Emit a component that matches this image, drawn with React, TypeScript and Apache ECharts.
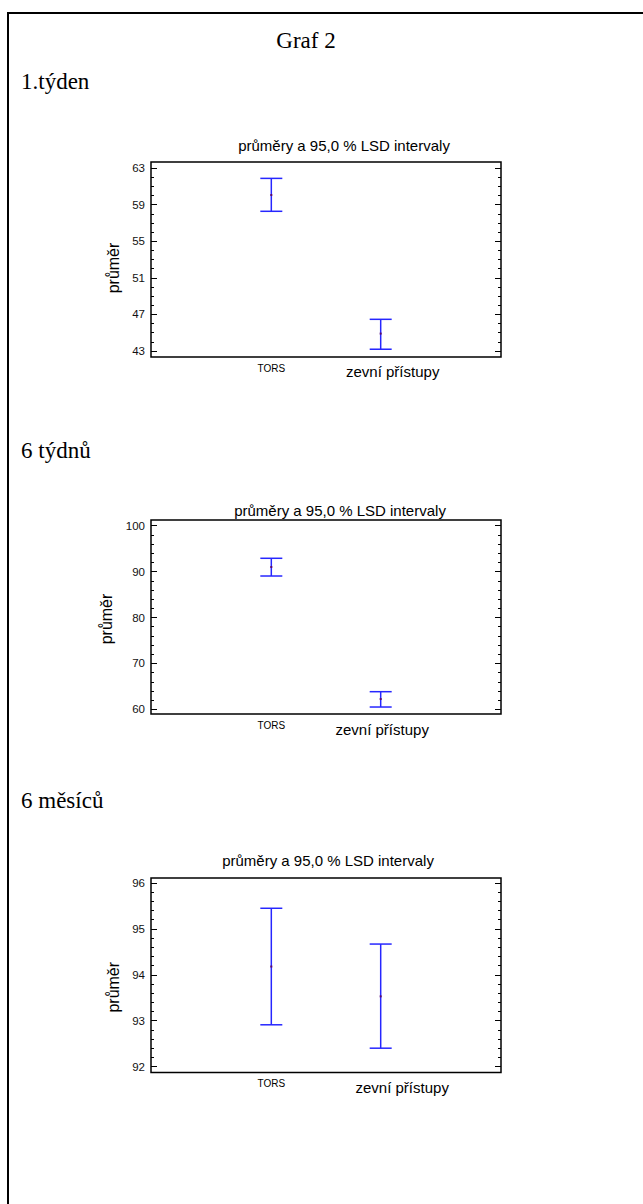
import React, { useEffect, useRef } from "react";
import * as echarts from "echarts";

// ---------- data ----------
const categories = ["TORS", "zevní přístupy"];
const catPos = [1, 2];

const headings = ["1.týden", "6 týdnů", "6 měsíců"];
const pageTitle = "Graf 2";
const chartTitle = "průměry a 95,0 % LSD intervaly";
const yName = "průměr";

// chart 1 (1.týden)
const week1Mean = [60.05, 44.9];
const week1Low = [58.27, 43.19];
const week1High = [61.87, 46.46];
const week1Major = [43, 47, 51, 55, 59, 63];
const week1Minor = [44, 45, 46, 48, 49, 50, 52, 53, 54, 56, 57, 58, 60, 61, 62];

// chart 2 (6 týdnů)
const weeks6Mean = [91.0, 62.24];
const weeks6Low = [89.04, 60.5];
const weeks6High = [92.9, 63.84];
const weeks6Major = [60, 70, 80, 90, 100];
const weeks6Minor = [62, 64, 66, 68, 72, 74, 76, 78, 82, 84, 86, 88, 92, 94, 96, 98];

// chart 3 (6 měsíců)
const months6Mean = [94.18, 93.53];
const months6Low = [92.91, 92.4];
const months6High = [95.45, 94.67];
const months6Major = [92, 93, 94, 95, 96];
const months6Minor = [92.2, 92.4, 92.6, 92.8, 93.2, 93.4, 93.6, 93.8, 94.2, 94.4, 94.6, 94.8, 95.2, 95.4, 95.6, 95.8];

// ---------- layout / style ----------
const SANS = "'Liberation Sans', Arial, sans-serif";
const SERIF = "'Liberation Serif', 'Times New Roman', serif";
const BLUE = "#2626ff";
const PURPLE = "#5a0a6a";

const panels = [
  {
    mean: week1Mean, low: week1Low, high: week1High, major: week1Major, minor: week1Minor,
    min: 42.34, max: 63.66, top: 162, height: 195,
    titleX: 344, titleY: 145, headingY: 81,
    nameShift: 17, zevShift: 24, zevTop: 1,
  },
  {
    mean: weeks6Mean, low: weeks6Low, high: weeks6High, major: weeks6Major, minor: weeks6Minor,
    min: 58.98, max: 101.24, top: 520, height: 194,
    titleX: 340, titleY: 510, headingY: 450,
    nameShift: 4, zevShift: 3, zevTop: 3,
  },
  {
    mean: months6Mean, low: months6Low, high: months6High, major: months6Major, minor: months6Minor,
    min: 91.87, max: 96.11, top: 878, height: 194.5,
    titleX: 328, titleY: 860, headingY: 800,
    nameShift: 24, zevShift: 43, zevTop: 1,
  },
];

const GRID_LEFT = 151;
const GRID_WIDTH = 350;

function buildOption() {
  const grid: any[] = [];
  const xAxis: any[] = [];
  const yAxis: any[] = [];
  const series: any[] = [];
  const graphic: any[] = [];

  graphic.push({
    type: "rect",
    shape: { x: 8, y: 13, width: 760, height: 1300 },
    style: { fill: "none", stroke: "#000", lineWidth: 2 },
    silent: true,
  });
  graphic.push({
    type: "text",
    x: 306,
    y: 40,
    style: { text: pageTitle, fontFamily: SERIF, fontSize: 23, fill: "#000", align: "center", verticalAlign: "middle" },
  });

  panels.forEach((p, g) => {
    const gMain = g * 2;
    const gMinor = g * 2 + 1;
    const rect = { left: GRID_LEFT, top: p.top, width: GRID_WIDTH, height: p.height, containLabel: false };

    grid.push({ ...rect, show: true, borderColor: "#000", borderWidth: 1.5, backgroundColor: "transparent" });
    grid.push({ ...rect, show: false });

    xAxis.push({
      type: "value",
      gridIndex: gMain,
      min: -0.1,
      max: 3.1,
      axisLine: { show: false, onZero: false },
      axisTick: { show: false },
      splitLine: { show: false },
      axisLabel: {
        show: true,
        customValues: catPos,
        margin: 5,
        formatter: (v: number) => {
          const idx = catPos.indexOf(v);
          if (idx === 0) return "{a|" + categories[0] + "}";
          if (idx === 1) return "{b|" + categories[1] + "}";
          return "";
        },
        rich: {
          a: { fontFamily: SANS, fontSize: 10, lineHeight: 12, color: "#000" },
          b: {
            fontFamily: SANS,
            fontSize: 15,
            lineHeight: 18,
            color: "#000",
            padding: [p.zevTop, 0, 0, p.zevShift],
          },
        },
      },
    });
    xAxis.push({
      type: "value",
      gridIndex: gMinor,
      min: -0.1,
      max: 3.1,
      show: false,
      axisLine: { show: false, onZero: false },
    });

    const base = (gi: number) => ({
      type: "value",
      gridIndex: gi,
      min: p.min,
      max: p.max,
      axisLine: { show: false, onZero: false },
      splitLine: { show: false },
    });
    yAxis.push({
      ...base(gMain),
      position: "left",
      axisTick: { show: true, inside: true, length: 6, customValues: p.major, lineStyle: { color: "#000", width: 1 } },
      axisLabel: { show: true, customValues: p.major, margin: 6, fontFamily: SANS, fontSize: 11.5, color: "#111" },
      name: yName,
      nameLocation: "middle",
      nameRotate: 90,
      nameGap: 18,
      nameTextStyle: { fontFamily: SANS, fontSize: 16, color: "#000", padding: [0, p.nameShift, 0, 0] },
    });
    yAxis.push({
      ...base(gMain),
      position: "right",
      axisTick: { show: true, inside: true, length: 6, customValues: p.major, lineStyle: { color: "#000", width: 1 } },
      axisLabel: { show: false },
    });
    yAxis.push({
      ...base(gMinor),
      position: "left",
      axisTick: { show: true, inside: true, length: 3, customValues: p.minor, lineStyle: { color: "#000", width: 1 } },
      axisLabel: { show: false },
    });
    yAxis.push({
      ...base(gMinor),
      position: "right",
      axisTick: { show: true, inside: true, length: 3, customValues: p.minor, lineStyle: { color: "#000", width: 1 } },
      axisLabel: { show: false },
    });

    const data = catPos.map((x, i) => [x, p.low[i], p.mean[i], p.high[i]]);
    series.push({
      type: "custom",
      xAxisIndex: gMain,
      yAxisIndex: g * 4,
      data,
      encode: { x: 0, y: [1, 2, 3] },
      renderItem: (_params: any, api: any) => {
        const x = api.value(0);
        const lo = api.coord([x, api.value(1)]);
        const m = api.coord([x, api.value(2)]);
        const hi = api.coord([x, api.value(3)]);
        const half = 11;
        const ls = { stroke: BLUE, lineWidth: 1.5 };
        return {
          type: "group",
          children: [
            { type: "line", shape: { x1: hi[0], y1: hi[1], x2: lo[0], y2: lo[1] }, style: ls },
            { type: "line", shape: { x1: hi[0] - half, y1: hi[1], x2: hi[0] + half, y2: hi[1] }, style: ls },
            { type: "line", shape: { x1: lo[0] - half, y1: lo[1], x2: lo[0] + half, y2: lo[1] }, style: ls },
            { type: "rect", shape: { x: m[0] - 1, y: m[1] - 1, width: 2, height: 2 }, style: { fill: PURPLE } },
          ],
        };
      },
    });

    graphic.push({
      type: "text",
      x: 21,
      y: p.headingY,
      style: { text: headings[g], fontFamily: SERIF, fontSize: 23, fill: "#000", align: "left", verticalAlign: "middle" },
    });
    graphic.push({
      type: "text",
      x: p.titleX,
      y: p.titleY,
      style: { text: chartTitle, fontFamily: SANS, fontSize: 15, fill: "#000", align: "center", verticalAlign: "middle" },
    });
  });

  return {
    animation: false,
    backgroundColor: "#fff",
    grid,
    xAxis,
    yAxis,
    series,
    graphic,
  };
}

export default function App() {
  const ref = useRef<HTMLDivElement>(null);
  useEffect(() => {
    if (!ref.current) return;
    const chart = echarts.init(ref.current, undefined, { renderer: "svg" });
    chart.setOption(buildOption());
    return () => chart.dispose();
  }, []);
  return (
    <div
      ref={ref}
      style={{ position: "absolute", left: 0, top: 0, width: 643, height: 1204, background: "#fff" }}
    />
  );
}
